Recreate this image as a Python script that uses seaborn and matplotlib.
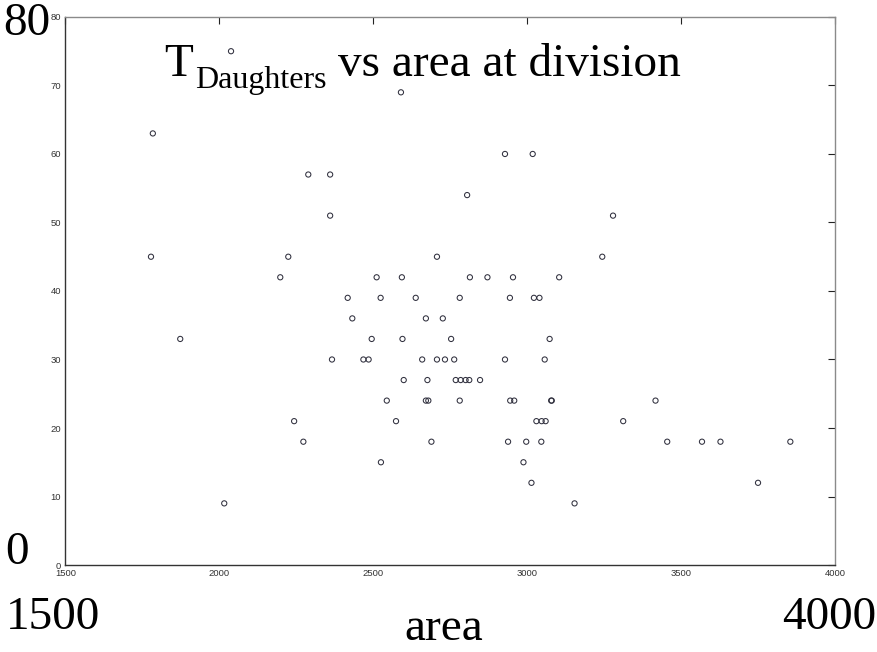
import matplotlib
matplotlib.use("Agg")
import matplotlib.pyplot as plt
import seaborn as sns
import pandas as pd

# cell area at division vs daughter time
area = [2038,
        2590,
        1784,
        2928, 3018,
        2289, 2360,
        2805,
        2360, 3279,
        1778, 2224, 2707, 3244,
        2198, 2511, 2593, 2814, 2871, 2954, 3104,
        2417, 2524, 2638, 2781, 2944, 3022, 3040,
        2432, 2671, 2726,
        1873, 2495, 2595, 2753, 3073,
        2366, 2468, 2485, 2659, 2707, 2733, 2763, 2928, 3057,
        2599, 2676, 2768, 2784, 2800, 2812, 2847,
        2544, 2671, 2679, 2781, 2945, 2958, 3078, 3080, 3417,
        2243, 2574, 3030, 3047, 3060, 3312,
        2273, 2689, 2938, 2997, 3046, 3455, 3568, 3628, 3855,
        2525, 2988,
        3014, 3750,
        2016, 3154]
t_daughters = ([75] + [69] + [63] + [60] * 2 + [57] * 2 + [54] + [51] * 2 +
               [45] * 4 + [42] * 7 + [39] * 7 + [36] * 3 + [33] * 5 +
               [30] * 9 + [27] * 7 + [24] * 9 + [21] * 6 + [18] * 9 +
               [15] * 2 + [12] * 2 + [9] * 2)

x_ticks = [1500, 2000, 2500, 3000, 3500, 4000]
y_ticks = [0, 10, 20, 30, 40, 50, 60, 70, 80]

df = pd.DataFrame({"area": area, "T": t_daughters})

sns.set_style("white")
plt.rcParams["font.family"] = ["Liberation Sans", "DejaVu Sans"]

fig = plt.figure(figsize=(8.78, 6.52), dpi=100)
ax = fig.add_axes([0.0745, 0.1334, 0.8765, 0.8406])

sns.scatterplot(data=df, x="area", y="T", ax=ax, marker="o", s=14,
                facecolor="none", edgecolor="#30303e", linewidth=0.75)

ax.set_xlim(1500, 4000)
ax.set_ylim(0, 80)
ax.set_xticks(x_ticks)
ax.set_yticks(y_ticks)
ax.tick_params(direction="in", length=5, width=0.8, color="#222222",
               labelsize=6.8, labelcolor="#333333", top=True, right=True,
               labeltop=False, labelright=False, pad=3)
ax.set_xlabel("")
ax.set_ylabel("")
for side in ["left", "bottom"]:
    ax.spines[side].set_color("#333333")
for side in ["top", "right"]:
    ax.spines[side].set_color("#8a8a8a")
for sp in ax.spines.values():
    sp.set_linewidth(1.0)

serif = "Liberation Serif"
big = dict(fontsize=34, family=serif, color="black", va="baseline")
# title: T with a lowered subscript, then the rest
fig.text(164 / 878, 1 - 76 / 652, "T", ha="left", **big)
fig.text(195 / 878, 1 - 88 / 652, "Daughters", fontsize=23, family=serif,
         color="black", ha="left", va="baseline")
fig.text(338 / 878, 1 - 76 / 652, "vs area at division", ha="left", **big)
fig.text(50 / 878, 1 - 35 / 652, "80", ha="right", **big)
fig.text(5 / 878, 1 - 564 / 652, "0", ha="left", **big)
fig.text(6 / 878, 1 - 629 / 652, "1500", ha="left", **big)
fig.text(876 / 878, 1 - 629 / 652, "4000", ha="right", **big)
fig.text(444 / 878, 1 - 640 / 652, "area", ha="center", **big)

fig.savefig("out.png", dpi=100)
